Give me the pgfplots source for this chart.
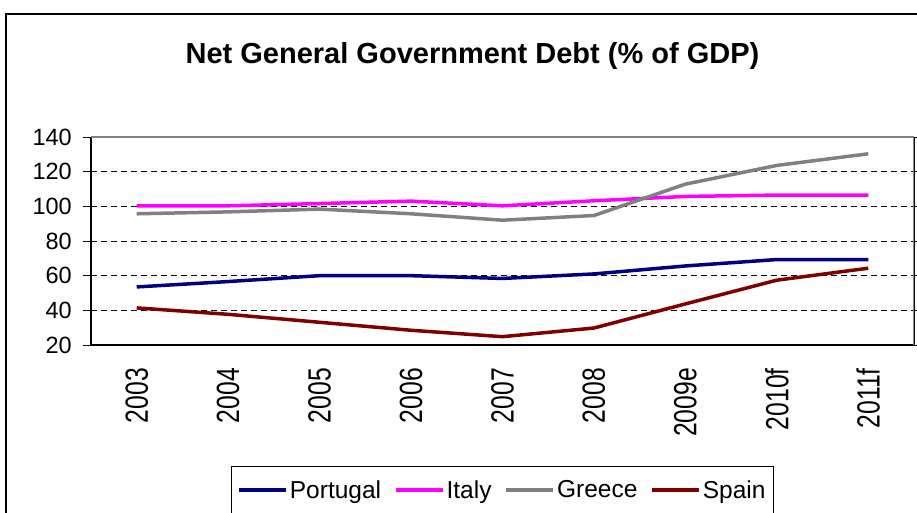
\documentclass[border=0pt]{standalone}
\usepackage{pgfplots}
\pgfplotsset{compat=1.18}
\usepackage{fontspec}
\setmainfont{Liberation Sans}
\definecolor{cPor}{RGB}{0,0,128}
\definecolor{cIta}{RGB}{255,0,255}
\definecolor{cGre}{RGB}{128,128,128}
\definecolor{cSpa}{RGB}{128,0,0}
\begin{document}
\begin{tikzpicture}
\useasboundingbox (0bp,0bp) rectangle (917bp,513bp);
\clip (0bp,0bp) rectangle (917bp,513bp);
\draw[black, line width=1.2bp] (6bp,-10bp) -- (6bp,499bp) -- (930bp,499bp);
\node[anchor=base, font=\bfseries\fontsize{29bp}{31bp}\selectfont] at (472.5bp,449.5bp) {Net General Government Debt (\% of GDP)};
\begin{axis}[
  at={(91bp,168bp)}, anchor=south west,
  scale only axis, width=823bp, height=208bp,
  xmin=-0.5, xmax=8.5, ymin=20, ymax=140,
  xtick={0,...,8},
  xticklabels={2003,2004,2005,2006,2007,2008,2009e,2010f,2011f},
  major x tick style={draw=none},
  ytick={20,40,...,140},
  tick align=outside,
  major tick length=8bp,
  y tick style={black, line width=0.9bp},
  ymajorgrids,
  major grid style={black, line width=0.8bp, dash pattern=on 6bp off 4bp},
  axis line style={line width=1.2bp},
  separate axis lines,
  x axis line style={black},
  y axis line style={black},
  /pgf/number format/assume math mode=true,
  yticklabel style={font=\fontsize{23.5bp}{24bp}\selectfont, inner sep=0pt, xshift=-11bp},
  xticklabel shift=15bp,
  xticklabel style={font=\fontsize{24.7bp}{26bp}\selectfont, rotate=90, yscale=1.3, anchor=east, inner sep=0pt},
  legend columns=4,
  legend style={at={(0.1701,-0.5817)}, anchor=north west, draw=black, line width=0.8bp,
    font=\fontsize{24.5bp}{26bp}\selectfont, inner xsep=6bp, inner ysep=12bp,
    /tikz/every even column/.append style={column sep=11bp}},
  legend image code/.code={\draw[#1, line width=3.5bp] (0bp,0bp) -- (47bp,0bp);},
  every axis plot/.append style={line width=3.5bp},
]
\addplot[cPor] coordinates {(0,53.5) (1,56.6) (2,60) (3,60) (4,58.4) (5,61) (6,65.6) (7,69.3) (8,69.3)};
\addplot[cIta] coordinates {(0,100.3) (1,100.3) (2,101.6) (3,103) (4,100.3) (5,103.2) (6,105.7) (7,106.5) (8,106.5)};
\addplot[cGre] coordinates {(0,95.7) (1,96.8) (2,98.4) (3,95.7) (4,92) (5,94.7) (6,112.8) (7,123.6) (8,130.3)};
\addplot[cSpa] coordinates {(0,41.4) (1,37.7) (2,33.1) (3,28.5) (4,24.8) (5,29.8) (6,43.7) (7,57.4) (8,64.3)};
\legend{Portugal,Italy,Greece,Spain}
\draw[cGre, line width=1.2bp] (axis description cs:0,1) -- (axis description cs:1,1) -- (axis description cs:1,0);
\end{axis}
\end{tikzpicture}
\end{document}
